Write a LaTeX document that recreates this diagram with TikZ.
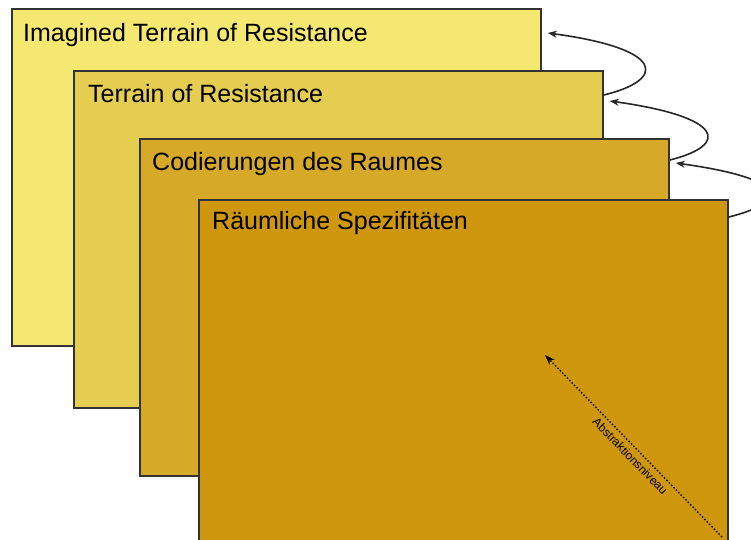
\documentclass[tikz,border=0pt]{standalone}
\usepackage{fontspec}
\setmainfont{Liberation Sans}
\usepackage{xcolor}
\usetikzlibrary{positioning,calc,arrows,arrows.meta}

\definecolor{layerA}{RGB}{245,232,112}
\definecolor{layerB}{RGB}{229,205,82}
\definecolor{layerC}{RGB}{214,170,40}
\definecolor{layerD}{RGB}{206,151,14}

\begin{document}
\begin{tikzpicture}[x=1pt,y=-1pt,
		layer/.style={draw=black!80, line width=1.8pt, anchor=north west,
			minimum width=529pt, minimum height=337pt, inner sep=0pt},
		title/.style={anchor=base west, inner sep=0pt, font=\fontsize{25}{30}\selectfont},
		loop/.style={line width=1.6pt, black!85, -{Stealth[length=9pt,width=7pt]}}]
		\useasboundingbox (0,0) rectangle (751,539);
		\node[layer, fill=layerA] (L1) at (11,8) {};
		\node[layer, fill=layerB] (L2) at ([shift={(62,62)}]L1.north west) {};
		\node[layer, fill=layerC] (L3) at ([shift={(66,68)}]L2.north west) {};
		\node[layer, fill=layerD, minimum height=360pt] (L4) at ([shift={(59,61)}]L3.north west) {};
		\node[title] (t1) at ([shift={(12,33)}]L1.north west) {Imagined Terrain of Resistance};
		\node[title] (t2) at ([shift={(15,32)}]L2.north west) {Terrain of Resistance};
		\node[title] (t3) at ([shift={(13,32)}]L3.north west) {Codierungen des Raumes};
		\node[title] (t4) at ([shift={(14,30)}]L4.north west) {Räumliche Spezifitäten};
		\coordinate (s2) at ([shift={(0,25)}]L2.north east);
		\coordinate (e1) at ([shift={(6,25)}]L1.north east);
		\coordinate (s3) at ([shift={(0,22)}]L3.north east);
		\coordinate (e2) at ([shift={(6,31)}]L2.north east);
		\coordinate (s4) at ([shift={(0,18)}]L4.north east);
		\coordinate (e3) at ([shift={(6,25)}]L3.north east);
		\draw[loop] (s2) .. controls +(62,-15) and +(119,16) .. (e1);
		\draw[loop] (s3) .. controls +(60,-15) and +(115,16) .. (e2);
		\draw[loop] (s4) .. controls +(60,-15) and +(115,16) .. (e3);
		\coordinate (a0) at (722,537);
		\coordinate (a1) at (545,355);
		\draw[dotted, line width=1.4pt, -{Stealth[length=10pt,width=7pt]}] (a0) -- node[pos=0.48, sloped, below=1pt, font=\fontsize{12}{13}\selectfont] (lvl) {Abstraktionsniveau} (a1);
	\end{tikzpicture}
\end{document}
